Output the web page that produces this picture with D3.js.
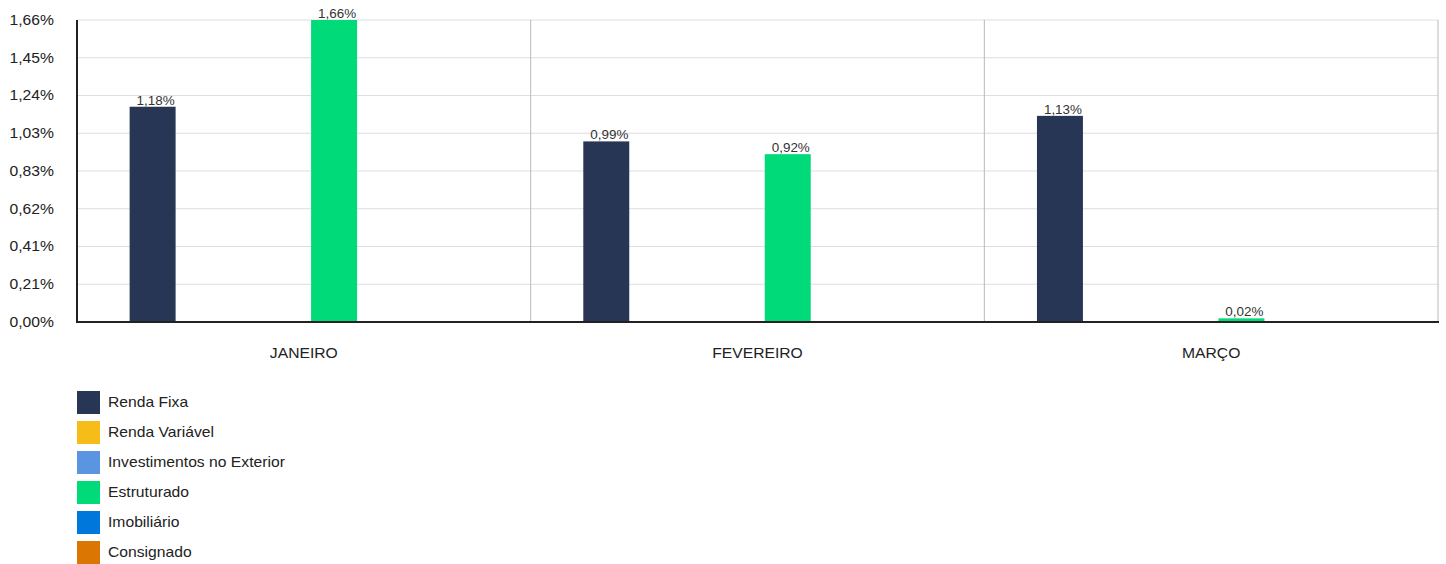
<!DOCTYPE html>
<html><head><meta charset="utf-8">
<script src="https://cdn.jsdelivr.net/npm/d3@7"></script>
<style>body{margin:0;background:#fff;font-family:"Liberation Sans",Arial,sans-serif;}</style>
</head><body>
<svg id="c" width="1446" height="564"></svg>
<script>
const categories = ["JANEIRO", "FEVEREIRO", "MARÇO"];
const seriesNames = ["Renda Fixa", "Renda Variável", "Investimentos no Exterior", "Estruturado", "Imobiliário", "Consignado"];
const seriesColors = ["#263654", "#f6bc17", "#5995e0", "#00da78", "#0077db", "#dc7602"];
const rendaFixa = [1.18, 0.99, 1.13];
const rendaVariavel = [null, null, null];
const exterior = [null, null, null];
const estruturado = [1.6555, 0.92, 0.02];
const imobiliario = [null, null, null];
const consignado = [null, null, null];
const yMax = 1.6555;
const yTicks = [0, 0.2069, 0.4139, 0.6208, 0.8278, 1.0347, 1.2416, 1.4486, 1.6555];

const seriesValues = [rendaFixa, rendaVariavel, exterior, estruturado, imobiliario, consignado];
const fmt = v => d3.format(".2f")(v).replace(".", ",") + "%";
const SX = 1.12;
const place = (sel, fx, fy) => sel.attr("transform", (d, i) => `translate(${fx(d, i)},${fy(d, i)}) scale(${SX},1)`);

const svg = d3.select("#c");
const L = 77, R = 1438, T = 20, B = 322;
const x0 = d3.scaleBand().domain(categories).range([L, R]).padding(0);
const x1 = d3.scaleBand().domain(seriesNames).range([0, x0.bandwidth()]).paddingInner(0.24).paddingOuter(0.87);
const y = d3.scaleLinear().domain([0, yMax]).range([B, T]);

// grid
svg.append("g").selectAll("line").data(yTicks).join("line")
  .attr("x1", L).attr("x2", R).attr("y1", d => y(d)).attr("y2", d => y(d))
  .attr("stroke", "#dedede").attr("stroke-width", 1);
// group separators
svg.append("g").selectAll("line").data(categories.slice(1).concat(["__end"])).join("line")
  .attr("x1", d => d === "__end" ? R : x0(d)).attr("x2", d => d === "__end" ? R : x0(d))
  .attr("y1", T).attr("y2", B).attr("stroke", "#b8b8b8").attr("stroke-width", 1);

// y axis labels
place(svg.append("g").selectAll("text").data(yTicks).join("text"), () => 54, d => y(d))
  .attr("dy", "0.35em")
  .attr("text-anchor", "end").attr("font-size", 14).attr("fill", "#222")
  .text(d => fmt(d));

// bars
const bars = [];
categories.forEach((c, ci) => seriesNames.forEach((s, si) => {
  const v = seriesValues[si][ci];
  if (v != null) bars.push({c, s, v, color: seriesColors[si]});
}));
const g = svg.append("g");
g.selectAll("rect").data(bars).join("rect")
  .attr("x", d => x0(d.c) + x1(d.s)).attr("width", x1.bandwidth())
  .attr("y", d => y(d.v)).attr("height", d => B - y(d.v))
  .attr("fill", d => d.color);
place(g.selectAll("text").data(bars).join("text"),
  d => x0(d.c) + x1(d.s) + x1.bandwidth() / 2 + 3, d => y(d.v) - 2)
  .attr("text-anchor", "middle").attr("font-size", 12).attr("fill", "#333")
  .text(d => fmt(d.v));

// axes lines
svg.append("line").attr("x1", L).attr("x2", L).attr("y1", T).attr("y2", B + 1).attr("stroke", "#222").attr("stroke-width", 2);
svg.append("line").attr("x1", L).attr("x2", R + 1).attr("y1", B).attr("y2", B).attr("stroke", "#222").attr("stroke-width", 2);

// category labels
place(svg.append("g").selectAll("text").data(categories).join("text"),
  d => x0(d) + x0.bandwidth() / 2, () => 358)
  .attr("text-anchor", "middle").attr("font-size", 14).attr("fill", "#222")
  .text(d => d);

// legend
const lg = svg.append("g").selectAll("g").data(seriesNames).join("g")
  .attr("transform", (d, i) => `translate(77,${391 + i * 30})`);
lg.append("rect").attr("width", 23).attr("height", 23).attr("fill", (d, i) => seriesColors[i]);
lg.append("text").attr("transform", `translate(31,16) scale(${SX},1)`)
  .attr("font-size", 14).attr("fill", "#222").text(d => d);
</script>
</body></html>
